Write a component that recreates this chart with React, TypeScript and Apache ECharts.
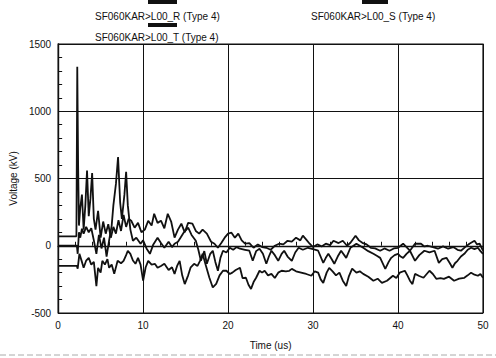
import React, { useEffect, useRef } from "react";
import * as echarts from "echarts";

// Time (us), Voltage (kV) pairs
const seriesR: [number, number][] = [
  [0, 70], [2.15, 70], [2.25, 1330], [2.35, 600], [2.45, 150], [2.6, 280], [2.8, 380], [3.0, 120], [3.2, 300], [3.4, 560],
  [3.6, 220], [3.8, 350], [4.0, 540], [4.2, 200], [4.4, 120], [4.7, 260], [5.0, 60], [5.3, 180], [5.6, 90], [5.9, 160],
  [6.2, 60], [6.5, 140], [6.8, 90], [7.1, 190], [7.4, 110], [7.7, 230], [8.0, 140], [8.3, 200], [8.6, 186], [9.0, 134],
  [9.4, 170], [9.8, 100], [10.2, 120], [10.6, 186], [11.0, 150], [11.3, 238], [11.7, 170], [12.1, 186], [12.5, 130], [12.9, 238],
  [13.3, 180], [13.7, 60], [14.1, 120], [14.5, 164], [14.9, 100], [15.3, 170], [15.8, 164], [16.2, 110], [16.6, 90], [17.0, 120],
  [17.5, 90], [18.0, 30], [18.4, 15], [18.8, -15], [19.2, 20], [19.6, 60], [20.0, 90], [20.4, 97], [20.8, 60], [21.2, 90],
  [21.6, 40], [22.0, 15], [22.5, 20], [23.0, -15], [23.5, 10], [24.0, -10], [24.5, -15], [25.0, -30], [25.5, 0], [26.0, 15],
  [26.5, 10], [27.0, 37], [27.5, 30], [28.0, 60], [28.5, 40], [28.8, 75], [29.2, 45], [29.6, 15], [30.0, -10], [30.5, 10],
  [31.0, -5], [31.5, 15], [32.0, 5], [32.4, 37], [33.0, 20], [33.5, 37], [34.0, 0], [34.4, 22], [35.0, 75], [35.4, 40],
  [35.8, 22], [36.3, 10], [36.8, -15], [37.3, -20], [37.9, -37], [38.4, -20], [39.0, -37], [39.5, -20], [40.0, -15], [40.6, 15],
  [41.0, -10], [41.4, -37], [42.0, 15], [42.7, 15], [43.1, -5], [43.5, 0], [44.1, -10], [44.7, -22], [45.3, -5], [45.9, -22],
  [46.5, -10], [47.0, -30], [47.4, -37], [47.9, -10], [48.4, 15], [49.0, 37], [49.3, 10], [49.6, 15], [50, -37],
];

const seriesS: [number, number][] = [
  [0, 0], [2.2, 0], [2.3, -60], [2.45, 100], [2.6, 60], [2.8, 127], [3.0, 90], [3.3, 140], [3.6, 100], [3.9, 130],
  [4.2, 40], [4.5, -60], [4.8, 80], [5.1, -20], [5.4, 60], [5.7, -80], [6.0, 40], [6.3, 150], [6.5, 300], [6.8, 460],
  [7.05, 660], [7.3, 320], [7.5, 200], [7.8, 380], [8.0, 550], [8.2, 300], [8.5, 120], [8.8, 37], [9.2, 60], [9.7, 15],
  [10.0, 40], [10.4, -20], [10.8, -60], [11.2, 10], [11.7, 60], [12.1, 20], [12.5, -15], [13.0, 30], [13.4, -10], [13.7, 15],
  [14.1, 30], [14.4, 60], [14.8, 100], [15.3, 134], [15.7, 80], [16.2, 37], [16.5, -30], [16.8, -112], [17.2, -40], [17.5, -134],
  [17.9, -60], [18.2, -37], [18.5, -120], [18.8, -186], [19.1, -90], [19.4, -37], [19.8, -50], [20.2, -15], [20.6, -30], [21.0, -10],
  [21.4, -22], [22.0, -30], [22.5, -37], [22.9, -112], [23.3, -40], [23.7, -22], [24.1, -60], [24.5, -134], [24.8, -80], [25.1, -37],
  [25.5, -70], [25.9, -112], [26.3, -60], [26.6, -37], [27.0, -80], [27.5, -112], [27.9, -50], [28.3, -15], [28.8, -30], [29.4, -15],
  [30.0, -25], [30.6, -37], [31.2, -127], [31.5, -90], [31.8, -60], [32.2, -100], [32.5, -134], [32.9, -80], [33.3, -37], [33.9, -90],
  [34.4, -15], [35.1, 15], [35.5, 0], [35.9, -15], [36.5, -40], [37.1, -60], [37.5, -75], [37.9, -90], [38.5, -172], [38.9, -120],
  [39.2, -90], [39.6, -70], [40.0, -60], [40.3, -80], [40.6, -90], [41.0, -60], [41.4, -37], [42.0, -112], [42.5, -70], [43.1, -37],
  [43.7, -50], [44.3, -37], [44.8, -127], [45.2, -100], [45.7, -90], [46.1, -130], [46.4, -164], [46.7, -130], [47.0, -112], [47.4, -80],
  [47.8, -60], [48.2, -30], [48.6, -15], [49.0, -25], [49.4, -15], [49.7, -40], [50, -60],
];

const seriesT: [number, number][] = [
  [0, -150], [2.2, -150], [2.3, -170], [2.5, -60], [2.8, -120], [3.0, -164], [3.3, -110], [3.6, -90], [3.9, -140], [4.2, -120],
  [4.5, -300], [4.7, -164], [5.0, -200], [5.2, -112], [5.5, -140], [5.8, -100], [6.0, -164], [6.3, -140], [6.6, -209], [7.0, -112],
  [7.4, -130], [7.7, -112], [8.0, -70], [8.2, -37], [8.5, -60], [8.8, -110], [9.1, -134], [9.4, -90], [9.7, -140], [10.0, -260],
  [10.3, -160], [10.6, -112], [11.0, -140], [11.4, -135], [11.7, -164], [12.1, -150], [12.5, -134], [13.0, -180], [13.4, -160], [13.7, -209],
  [14.0, -150], [14.3, -112], [14.6, -220], [14.9, -285], [15.3, -220], [15.6, -160], [16.0, -134], [16.4, -150], [16.7, -112], [17.0, -60],
  [17.4, -150], [17.8, -238], [18.2, -310], [18.6, -284], [19.0, -220], [19.4, -186], [19.8, -186], [20.2, -210], [20.5, -200], [20.9, -180],
  [21.4, -164], [21.7, -240], [22.1, -238], [22.4, -290], [22.7, -321], [23.0, -270], [23.3, -238], [23.7, -186], [24.0, -200], [24.3, -186],
  [24.7, -220], [25.1, -209], [25.5, -240], [25.9, -200], [26.3, -186], [26.8, -190], [27.2, -186], [27.5, -172], [28.0, -190], [28.6, -200],
  [29.2, -210], [29.8, -223], [30.2, -190], [30.6, -200], [30.9, -250], [31.2, -276], [31.6, -200], [31.9, -164], [32.3, -190], [32.7, -220],
  [33.1, -200], [33.5, -260], [33.9, -300], [34.2, -230], [34.6, -170], [35.1, -200], [35.5, -190], [35.9, -209], [36.5, -230], [37.1, -260],
  [37.6, -245], [38.1, -276], [38.7, -260], [39.4, -223], [39.8, -240], [40.2, -200], [40.8, -186], [41.1, -220], [41.4, -260], [41.7, -285],
  [42.0, -209], [42.5, -225], [43.0, -238], [43.7, -186], [44.1, -210], [44.5, -246], [45.0, -240], [45.4, -246], [46.0, -230], [46.6, -260],
  [47.2, -245], [47.8, -238], [48.2, -220], [48.6, -200], [49.0, -215], [49.4, -223], [49.7, -210], [50, -238],
];

const seriesNames = ["SF060KAR>L00_R (Type 4)", "SF060KAR>L00_S (Type 4)", "SF060KAR>L00_T (Type 4)"];
const xTitle = "Time (us)";
const yTitle = "Voltage (kV)";

const FONT = "'Liberation Sans', Arial, sans-serif";
const INK = "#111";

export default function App() {
  const ref = useRef<HTMLDivElement>(null);
  useEffect(() => {
    if (!ref.current) return;
    const chart = echarts.init(ref.current, undefined, { renderer: "svg" });
    const lineSeries = [seriesR, seriesS, seriesT].map((d, i) => ({
      name: seriesNames[i],
      type: "line",
      data: d,
      showSymbol: false,
      symbol: "none",
      lineStyle: { color: INK, width: 1.8 },
      z: 3 + i,
    }));
    const plain = (v: number) => String(v);
    chart.setOption({
      animation: false,
      backgroundColor: "#fff",
      textStyle: { fontFamily: FONT },
      grid: { left: 58, right: 13, top: 44, bottom: 45, show: true, borderColor: INK, borderWidth: 1.2 },
      xAxis: {
        type: "value",
        min: 0,
        max: 50,
        interval: 10,
        name: xTitle,
        nameLocation: "middle",
        nameGap: 27,
        nameTextStyle: { fontFamily: FONT, fontSize: 10, color: INK },
        axisLine: { show: true, lineStyle: { color: INK, width: 1.4 } },
        axisTick: { show: true, inside: true, length: 5, lineStyle: { color: INK } },
        minorTick: { show: true, splitNumber: 5, length: 4, lineStyle: { color: INK } },
        axisLabel: { fontFamily: FONT, fontSize: 10, color: INK, margin: 7, formatter: plain },
        splitLine: { show: true, lineStyle: { color: INK, width: 1 } },
      },
      yAxis: {
        type: "value",
        min: -500,
        max: 1500,
        interval: 500,
        name: yTitle,
        nameLocation: "middle",
        nameGap: 31,
        nameRotate: 90,
        nameTextStyle: { fontFamily: FONT, fontSize: 10, color: INK },
        axisLine: { show: true, lineStyle: { color: INK, width: 1.4 } },
        axisTick: { show: true, inside: true, length: 5, lineStyle: { color: INK } },
        minorTick: { show: true, splitNumber: 5, length: 4, lineStyle: { color: INK } },
        axisLabel: { fontFamily: FONT, fontSize: 10, color: INK, margin: 7, formatter: plain },
        splitLine: { show: true, lineStyle: { color: INK, width: 1 } },
      },
      series: lineSeries,
      graphic: [
        { type: "rect", shape: { x: 148, y: 0, width: 29, height: 4 }, style: { fill: INK } },
        { type: "text", x: 95, y: 11, style: { text: seriesNames[0], font: `10px ${FONT}`, fill: INK } },
        { type: "rect", shape: { x: 362, y: 0, width: 26, height: 4 }, style: { fill: INK } },
        { type: "text", x: 311, y: 11, style: { text: seriesNames[1], font: `10px ${FONT}`, fill: INK } },
        { type: "rect", shape: { x: 148, y: 23, width: 29, height: 4 }, style: { fill: INK } },
        { type: "text", x: 95, y: 32, style: { text: seriesNames[2], font: `10px ${FONT}`, fill: INK } },
        { type: "line", shape: { x1: 0, y1: 355, x2: 496, y2: 355 }, style: { stroke: "#aaa", lineWidth: 1, lineDash: [6, 3] } },
      ],
    });
    return () => chart.dispose();
  }, []);
  return (
    <div
      ref={ref}
      style={{ position: "fixed", left: 0, top: 0, width: 496, height: 358, background: "#fff" }}
    />
  );
}
